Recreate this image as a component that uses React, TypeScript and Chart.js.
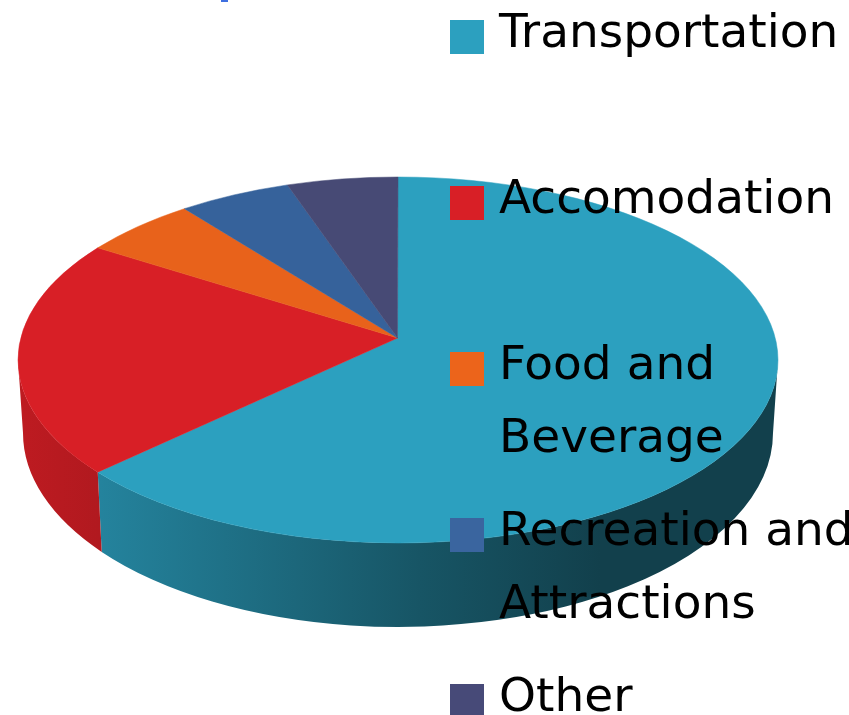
import React, { useEffect, useRef } from "react";
import { Chart, registerables } from "chart.js";

Chart.register(...registerables);

const categories = ["Transportation", "Accomodation", "Food and Beverage", "Recreation and Attractions", "Other"];
const shares = [64.5, 21, 5, 4.8, 4.7];
const sliceColors = ["#2ca0bf", "#d81f26", "#e8621b", "#36629b", "#474a75"];
const swatchColors = ["#2ca0bf", "#d81f26", "#ec641b", "#3a659f", "#474a78"];
const legendLines = [["Transportation"], ["Accomodation"], ["Food and", "Beverage"], ["Recreation and", "Attractions"], ["Other"]];

const APEX = { x: 397.5, y: 338 };
const TOP = { cx: 398, cy: 360, rx: 380, ry: 183 };
const BOTTOM = { cx: 398, cy: 433, rx: 375, ry: 194 };
const SHADE: [number, number][] = [[18, 0.88], [100, 0.82], [420, 0.53], [600, 0.4], [778, 0.4]];

function rgb(hex: string, k: number) {
  const n = parseInt(hex.slice(1), 16);
  return `rgb(${Math.round((n >> 16) * k)},${Math.round(((n >> 8) & 255) * k)},${Math.round((n & 255) * k)})`;
}

const pie3d = {
  id: "pie3d",
  beforeDatasetDraw(chart: any, args: any) {
    const ctx: CanvasRenderingContext2D = chart.ctx;
    const arcs = args.meta.data;
    ctx.save();
    // Front wall: the part of each slice's rim that faces the viewer
    arcs.forEach((arc: any, i: number) => {
      const a0 = Math.max(arc.startAngle, 0);
      const a1 = Math.min(arc.endAngle, Math.PI);
      if (a1 <= a0) return;
      const g = ctx.createLinearGradient(SHADE[0][0], 0, SHADE[SHADE.length - 1][0], 0);
      SHADE.forEach(([x, k]) => g.addColorStop((x - 18) / 760, rgb(sliceColors[i], k)));
      ctx.beginPath();
      ctx.ellipse(TOP.cx, TOP.cy, TOP.rx, TOP.ry, 0, a0, a1);
      ctx.ellipse(BOTTOM.cx, BOTTOM.cy, BOTTOM.rx, BOTTOM.ry, 0, a1, a0, true);
      ctx.closePath();
      ctx.fillStyle = g;
      ctx.fill();
    });
    // Top face: sectors fanned from the off-centre apex
    arcs.forEach((arc: any, i: number) => {
      ctx.beginPath();
      ctx.moveTo(APEX.x, APEX.y);
      ctx.ellipse(TOP.cx, TOP.cy, TOP.rx, TOP.ry, 0, arc.startAngle, arc.endAngle);
      ctx.closePath();
      ctx.fillStyle = sliceColors[i];
      ctx.fill();
      ctx.strokeStyle = sliceColors[i];
      ctx.lineWidth = 0.5;
      ctx.stroke();
    });
    ctx.restore();
    return false;
  },
  afterDraw(chart: any) {
    const ctx: CanvasRenderingContext2D = chart.ctx;
    ctx.save();
    ctx.fillStyle = "#3f6fe0";
    ctx.fillRect(221, 0, 7, 2);
    ctx.font = '47px "DejaVu Sans"';
    ctx.textBaseline = "alphabetic";
    ctx.textAlign = "left";
    legendLines.forEach((lines, i) => {
      ctx.fillStyle = swatchColors[i];
      ctx.fillRect(450, 20 + i * 166, 34, 34);
      ctx.fillStyle = "#000000";
      lines.forEach((line, j) => ctx.fillText(line, 499, 47 + i * 166 + j * 73));
    });
    ctx.restore();
  },
};

export default function App() {
  const ref = useRef<HTMLCanvasElement>(null);
  useEffect(() => {
    document.body.style.margin = "0";
    const chart = new Chart(ref.current!, {
      type: "pie",
      data: {
        labels: categories,
        datasets: [{ data: shares, backgroundColor: sliceColors, borderWidth: 0 }],
      },
      options: {
        responsive: false,
        animation: false,
        plugins: { legend: { display: false }, tooltip: { enabled: false } },
      },
      plugins: [pie3d],
    });
    return () => chart.destroy();
  }, []);
  return <canvas ref={ref} width={849} height={715} style={{ display: "block", background: "#fff" }} />;
}
